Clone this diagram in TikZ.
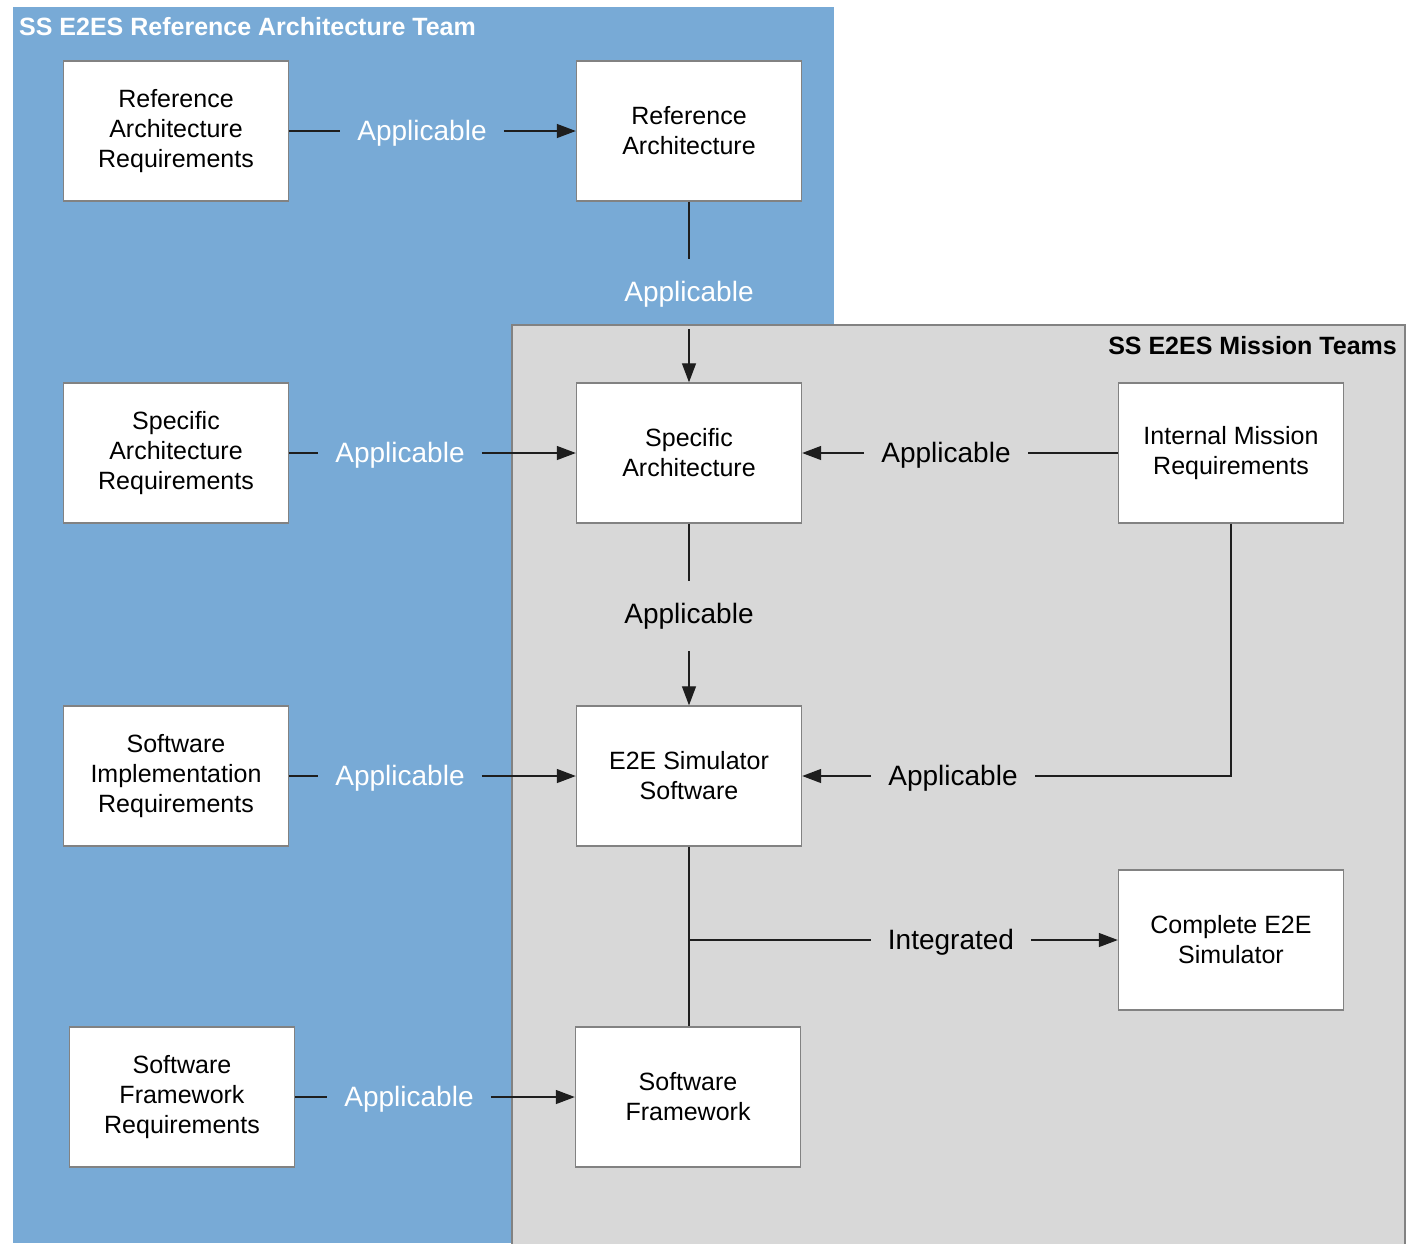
\documentclass[tikz,border=0pt]{standalone}
\usepackage{fontspec}
\setmainfont{Liberation Sans}
\usetikzlibrary{arrows.meta}
\definecolor{teamblue}{RGB}{120,170,214}
\definecolor{teamgray}{RGB}{216,216,216}
\definecolor{edgegray}{RGB}{130,130,130}
\definecolor{wire}{RGB}{30,30,30}
\tikzset{
  box/.style={draw=edgegray, line width=1.4pt, fill=white, minimum width=225pt,
    minimum height=140pt, align=center, inner sep=2pt,
    font=\fontsize{25}{30}\selectfont},
  lbl/.style={inner xsep=17pt, inner ysep=22pt, font=\fontsize{28}{34}\selectfont},
  lblw/.style={lbl, text=white},
  lblb/.style={lbl, text=black},
  conn/.style={draw=wire, line width=1.3pt},
  arr/.style={conn, -{Triangle[length=19pt,width=14pt]}},
  title/.style={inner sep=0pt, font=\fontsize{25}{30}\selectfont\bfseries}
}
\begin{document}
\begin{tikzpicture}[x=1pt,y=-1pt]
\useasboundingbox (0,0) rectangle (1411,1243);
% team regions
\fill[teamblue] (13,7) rectangle (834,1243);
\filldraw[fill=teamgray, draw=edgegray, line width=1.4pt] (512,1250) -- (512,325) -- (1405,325) -- (1405,1250);
\node[title, text=white, anchor=west] (reftitle) at (19,27) {SS E2ES Reference Architecture Team};
\node[title, text=black, anchor=east] (mistitle) at (1397,346) {SS E2ES Mission Teams};

% boxes
\node[box] (rar) at (176,131) {Reference\\Architecture\\Requirements};
\node[box] (ra)  at (689,131) {Reference\\Architecture};
\node[box] (sar) at (176,453) {Specific\\Architecture\\Requirements};
\node[box] (sa)  at (689,453) {Specific\\Architecture};
\node[box] (imr) at (1231,453) {Internal Mission\\Requirements};
\node[box] (sir) at (176,776) {Software\\Implementation\\Requirements};
\node[box] (e2e) at (689,776) {E2E Simulator\\Software};
\node[box] (ces) at (1231,940) {Complete E2E\\Simulator};
\node[box] (sfr) at (182,1097) {Software\\Framework\\Requirements};
\node[box] (sf)  at (688,1097) {Software\\Framework};

% connector labels
\node[lblw] (l1) at (422,133) {Applicable};
\node[lblw] (l2) at (689,294) {Applicable};
\node[lblw] (l3) at (400,455) {Applicable};
\node[lblb] (l4) at (946,455) {Applicable};
\node[lblb] (l5) at (689,616) {Applicable};
\node[lblw] (l6) at (400,778) {Applicable};
\node[lblb] (l7) at (953,778) {Applicable};
\node[lblb] (l8) at (951,942) {Integrated};
\node[lblw] (l9) at (409,1099) {Applicable};

% connectors
\draw[conn] (rar) -- (rar -| l1.west);  \draw[arr] (ra -| l1.east) -- (ra);
\draw[conn] (ra) -- (l2);   \draw[arr] (l2) -- (sa);
\draw[conn] (sar) -- (sar -| l3.west);  \draw[arr] (sa -| l3.east) -- (sa);
\draw[conn] (imr) -- (imr -| l4.east);  \draw[arr] (sa -| l4.west) -- (sa);
\draw[conn] (sa) -- (l5);   \draw[arr] (l5) -- (e2e);
\draw[conn] (sir) -- (sir -| l6.west);  \draw[arr] (e2e -| l6.east) -- (e2e);
\draw[conn] (imr.south) |- (e2e -| l7.east); \draw[arr] (e2e -| l7.west) -- (e2e);
\draw[conn] (e2e.south) -- (e2e.south |- sf.north);
\coordinate (join) at (e2e.south |- ces);
\draw[conn] (join) -- (ces -| l8.west); \draw[arr] (ces -| l8.east) -- (ces);
\draw[conn] (sfr) -- (sfr -| l9.west);  \draw[arr] (sf -| l9.east) -- (sf);
\end{tikzpicture}
\end{document}
